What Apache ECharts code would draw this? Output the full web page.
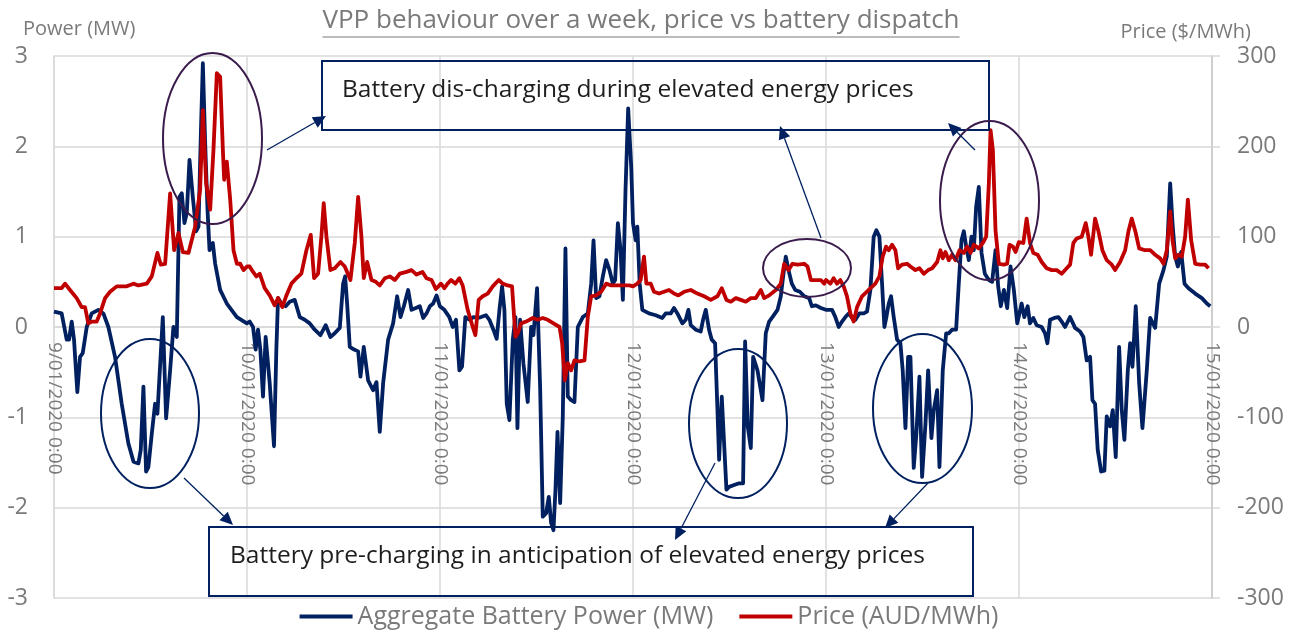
<!DOCTYPE html>
<html><head><meta charset="utf-8">
<script src="https://cdn.jsdelivr.net/npm/echarts@6/dist/echarts.min.js"></script>
<style>html,body{margin:0;padding:0;background:#fff}#c{width:1298px;height:630px}</style>
</head><body><div id="c"></div><script>
// x values are hours after 9/01/2020 0:00
const dayLabels = ['9/01/2020 0:00','10/01/2020 0:00','11/01/2020 0:00','12/01/2020 0:00','13/01/2020 0:00','14/01/2020 0:00','15/01/2020 0:00'];
const powerTicks = [-3,-2,-1,0,1,2,3];
const priceTicks = [-300,-200,-100,0,100,200,300];
const seriesNames = ['Aggregate Battery Power (MW)','Price (AUD/MWh)'];

const batteryPower = [
[0,0.17],[0.95,0.15],[1.58,-0.14],[1.87,-0.14],[2.2,0.06],[2.49,-0.14],[2.9,-0.72],[3.24,-0.33],[3.57,-0.29],[4.07,0],[4.69,0.15],[5.52,0.19],[6.14,0.15],[6.76,0],[7.59,-0.33],[8.42,-0.85],[9.25,-1.29],[9.88,-1.49],[10.5,-1.51],[10.79,-1.36],[11.12,-0.66],[11.45,-1.6],[11.74,-1.55],[12.16,-1.18],[12.57,-0.85],[12.86,-0.96],[13.53,0.11],[13.94,-1.01],[14.44,-0.48],[14.85,0],[15.27,-0.11],[15.6,1.44],[15.89,1.48],[16.22,1.15],[16.51,1.26],[16.85,1.85],[17.26,1.44],[17.68,1.06],[17.97,1.11],[18.26,2.14],[18.51,2.92],[18.8,2.03],[19.09,1.3],[19.34,0.85],[19.75,0.93],[20.04,0.7],[20.66,0.41],[21.49,0.26],[22.74,0.11],[23.98,0.04],
[24.33,0.06],[24.75,0],[25.08,-0.25],[25.37,-0.03],[25.66,-0.25],[25.99,-0.77],[26.32,-0.11],[26.82,-0.62],[27.36,-1.32],[27.65,-0.25],[27.86,0.32],[28.27,0.26],[28.81,0.23],[29.31,0.28],[29.93,0.3],[30.56,0.11],[31.18,0.08],[31.8,0.04],[32.42,-0.03],[33.13,-0.09],[33.79,0.02],[34.37,-0.11],[34.91,-0.07],[35.54,-0.01],[35.95,0.48],[36.2,0.56],[36.45,0.26],[36.78,-0.22],[37.32,-0.25],[37.82,-0.27],[38.11,-0.55],[38.52,-0.22],[39.06,-0.59],[39.68,-0.7],[40.1,-0.61],[40.51,-1.16],[40.93,-0.62],[41.55,-0.14],[42.17,0.04],[42.67,0.34],[43.09,0.11],[43.5,0.23],[44.04,0.41],[44.46,0.19],[45.0,0.21],[45.49,0.23],[45.91,0.1],[46.32,0.15],[46.74,0.23],[47.15,0.26],[47.57,0.35],[47.98,0.23],
[48.54,0.19],[49.16,0.11],[49.58,0],[49.99,0.08],[50.41,-0.48],[50.74,-0.44],[51.15,0.11],[51.65,0.08],[52.15,0.11],[52.69,0.1],[53.1,0.11],[53.73,0.13],[54.14,0.08],[54.64,-0.03],[55.05,-0.13],[55.39,0.19],[55.72,0.45],[56.01,0.19],[56.3,-0.85],[56.63,-1.03],[57.05,-0.14],[57.38,0.11],[57.63,-1.12],[57.96,0.08],[58.37,-0.4],[58.91,-0.83],[59.33,0],[59.62,-0.09],[60.07,0.43],[60.45,-0.66],[60.78,-2.1],[61.2,-2.06],[61.53,-1.88],[61.82,-2.17],[62.11,-2.25],[62.36,-1.8],[62.61,-1.16],[62.94,-1.95],[63.27,-0.99],[63.6,0.87],[63.89,-0.77],[64.31,-0.81],[64.72,-0.83],[65.14,0],[65.76,0.11],[66.38,0.15],[66.8,0.48],[67.09,0.96],[67.42,0.32],[67.83,0.34],[68.25,0.56],[68.66,0.74],[69.08,0.63],[69.49,0.48],[69.78,0.52],[70.12,1.15],[70.45,0.85],[70.74,0.3],[71.07,1.52],[71.4,2.42],[71.78,1.77],
[72.0,1.15],[72.33,0.96],[72.54,1.11],[72.83,0.48],[73.16,0.19],[73.99,0.15],[74.82,0.13],[75.65,0.1],[76.07,0.15],[76.69,0.15],[77.1,0.21],[77.52,0.15],[78.14,0.04],[78.56,0.08],[78.89,0.19],[79.18,0.02],[79.8,-0.03],[80.42,-0.05],[80.71,0.08],[81.05,0.19],[81.46,-0.03],[81.79,-0.14],[82.21,-0.18],[82.46,-0.81],[82.71,-1.47],[83.04,-0.77],[83.33,-1.29],[83.62,-1.8],[83.95,-1.77],[84.57,-1.75],[85.2,-1.73],[85.69,-1.73],[85.94,-0.16],[86.27,-1.1],[86.65,-1.34],[86.94,-0.33],[87.48,-0.48],[88.1,-0.81],[88.51,-0.07],[88.93,0.06],[89.34,0.11],[89.97,0.19],[90.38,0.34],[90.67,0.56],[91.0,0.78],[91.34,0.63],[91.75,0.48],[92.17,0.41],[92.75,0.39],[93.29,0.34],[93.91,0.32],[94.24,0.23],[94.74,0.24],[95.36,0.21],[95.98,0.19],
[96.12,0.19],[96.75,0.19],[97.16,0.11],[97.58,0],[97.99,0.06],[98.41,0.11],[98.82,0.15],[99.24,0.1],[99.65,0.08],[100.15,0.15],[100.69,0.15],[101.1,0.17],[101.52,0.41],[101.93,1.0],[102.27,1.07],[102.64,1.0],[102.97,0.48],[103.26,0],[103.51,0.11],[103.8,0.26],[104.09,0.34],[104.42,0.11],[104.84,-0.14],[105.25,-0.18],[105.54,-0.48],[105.88,-1.12],[106.21,-0.33],[106.5,-0.33],[106.91,-1.56],[107.24,-1.18],[107.62,-0.55],[107.95,-1.66],[108.37,-1.07],[108.7,-0.48],[109.11,-1.23],[109.4,-0.92],[109.82,-0.7],[110.11,-1.55],[110.52,-0.48],[110.94,-0.07],[111.27,-0.07],[111.68,-0.03],[112.18,-0.03],[112.51,0.48],[112.85,0.96],[113.14,1.06],[113.43,0.89],[113.76,0.74],[114.09,1.0],[114.38,0.85],[114.67,1.33],[115.0,1.55],[115.34,0.82],[115.75,0.59],[116.25,0.52],[116.66,0.5],[117.08,0.85],[117.41,0.45],[117.74,0.23],[118.12,0.41],[118.53,0.21],[118.95,0.67],[119.36,0.41],[119.78,0.04],
[120.0,0.06],[120.33,0.26],[120.66,0.11],[121.08,0.23],[121.37,0.04],[121.78,0.1],[122.2,0.02],[122.82,0],[123.24,-0.07],[123.53,-0.18],[123.86,0.08],[124.4,0.1],[124.9,0.11],[125.31,0.06],[125.73,0],[126.35,0.11],[126.97,-0.01],[127.59,-0.05],[128.01,-0.11],[128.42,-0.37],[128.84,-0.33],[129.13,-0.81],[129.46,-0.85],[129.79,-1.36],[130.21,-1.6],[130.62,-1.59],[130.91,-0.99],[131.33,-1.1],[131.66,-0.92],[132.03,-1.44],[132.45,-0.22],[132.78,-0.92],[133.11,-1.25],[133.53,-0.48],[133.82,-0.18],[134.11,-0.44],[134.52,0.23],[134.94,-0.62],[135.35,-1.12],[135.89,-0.48],[136.31,0.1],[136.93,-0.01],[137.43,0.48],[137.97,0.63],[138.38,0.78],[138.8,1.59],[139.09,1.15],[139.42,0.78],[139.75,0.67],[140.17,0.83],[140.58,0.48],[141.08,0.43],[141.91,0.37],[142.74,0.32],[143.36,0.26],[143.78,0.23]
];

const price = [
[0,43],[0.95,43],[1.37,48],[1.99,41],[2.82,32],[3.44,22],[3.86,22],[4.27,4],[4.69,6],[5.31,6],[5.73,15],[6.35,32],[6.97,39],[7.8,45],[9.05,45],[9.88,48],[10.5,46],[11.54,48],[12.16,56],[12.86,82],[13.28,69],[13.82,70],[14.44,148],[14.94,85],[15.48,104],[16.02,83],[16.72,82],[17.55,111],[18.17,152],[18.51,240],[18.92,159],[19.42,130],[19.83,196],[20.25,281],[20.66,277],[21.0,196],[21.16,163],[21.49,183],[21.91,141],[22.32,85],[22.74,70],[23.15,70],[23.57,63],[24.0,67],
[24.33,67],[24.75,61],[25.16,56],[25.58,59],[26.2,43],[26.82,35],[27.44,24],[27.86,32],[28.4,22],[28.9,35],[29.52,48],[30.14,54],[30.76,59],[31.39,85],[31.93,102],[32.34,54],[32.84,59],[33.25,100],[33.54,137],[33.88,100],[34.37,63],[34.91,65],[35.62,72],[36.16,67],[36.86,52],[37.4,93],[37.82,144],[38.23,100],[38.52,54],[38.94,72],[39.48,52],[40.02,50],[40.51,46],[41.14,54],[41.76,56],[42.38,52],[43.0,59],[43.83,61],[44.46,63],[45.08,58],[45.83,61],[46.32,54],[46.95,52],[47.49,42],[48.12,48],
[48.54,43],[48.95,48],[49.37,52],[49.91,48],[50.41,54],[50.82,46],[51.44,19],[52.07,0],[52.4,-9],[52.81,30],[53.31,34],[53.93,37],[54.56,45],[55.3,52],[55.8,48],[56.42,46],[56.96,45],[57.38,-11],[57.67,-7],[58.08,4],[58.71,6],[59.54,10],[60.16,8],[60.78,10],[61.4,8],[62.11,4],[62.86,0],[63.19,-18],[63.52,-59],[63.89,-40],[64.31,-48],[64.72,-37],[65.34,-38],[65.97,-37],[66.38,11],[66.8,34],[67.42,35],[68.04,39],[68.66,48],[69.29,46],[70.12,46],[70.95,46],[71.57,46],
[72.0,45],[72.54,48],[72.95,52],[73.37,78],[73.66,48],[74.2,48],[74.61,39],[75.24,37],[75.86,39],[76.48,41],[77.1,37],[77.64,35],[78.35,39],[79.18,41],[80.01,37],[80.84,34],[81.67,30],[82.5,34],[83.04,43],[83.62,30],[84.16,28],[84.78,32],[85.4,30],[86.02,28],[86.65,32],[87.27,32],[87.89,41],[88.31,32],[88.93,35],[89.76,41],[90.38,48],[90.8,70],[91.34,63],[91.83,70],[92.46,69],[93.29,70],[93.7,67],[94.12,52],[94.74,52],[95.36,52],[95.78,48],
[96.0,52],[96.54,48],[96.95,54],[97.37,48],[97.78,52],[98.2,45],[98.61,34],[99.03,15],[99.44,6],[99.86,22],[100.48,34],[101.31,41],[102.14,48],[102.64,56],[103.05,78],[103.47,89],[103.8,85],[104.22,91],[104.63,85],[104.96,65],[105.46,69],[106.08,70],[106.5,67],[107.12,63],[107.62,65],[108.16,59],[108.7,63],[109.2,65],[109.82,72],[110.23,85],[110.52,76],[110.85,83],[111.27,74],[111.68,80],[112.1,74],[112.6,85],[113.14,82],[113.55,89],[113.97,82],[114.38,91],[115.0,87],[115.5,93],[115.92,100],[116.25,159],[116.46,218],[116.75,196],[117.08,107],[117.49,70],[118.12,69],[118.53,70],[118.82,91],[119.24,89],[119.57,83],[119.98,94],
[120.54,93],[120.95,120],[121.37,93],[121.78,82],[122.32,80],[122.82,72],[123.44,65],[124.07,63],[124.69,63],[125.31,59],[125.93,65],[126.35,69],[126.76,93],[127.18,98],[127.8,100],[128.3,115],[128.63,100],[128.96,80],[129.46,120],[129.88,106],[130.37,85],[130.91,74],[131.54,69],[131.95,63],[132.57,72],[133.2,85],[133.61,106],[134.02,120],[134.52,104],[134.94,87],[135.68,85],[136.31,85],[136.93,80],[137.55,76],[137.97,70],[138.38,85],[138.8,128],[139.09,96],[139.42,76],[139.83,80],[140.25,78],[140.66,100],[141.0,141],[141.41,96],[141.91,70],[142.53,69],[143.15,69],[143.57,65]
];

const titleText = 'VPP behaviour over a week, price vs battery dispatch';
const noteTop = 'Battery dis-charging during elevated energy prices';
const noteBottom = 'Battery pre-charging in anticipation of elevated energy prices';

const FONT = '"Open Sans", "Noto Sans", sans-serif';
const NAVY = '#002060', RED = '#C00000', PURPLE = '#3a1b4c', GREY = '#7a7a7a', GRID = '#d9d9d9';

function measure(text, size) {
  const ctx = document.createElement('canvas').getContext('2d');
  ctx.font = size + 'px "Open Sans"';
  return ctx.measureText(text).width;
}
function arrow(x1, y1, x2, y2) {
  const dx = x2 - x1, dy = y2 - y1, L = Math.hypot(dx, dy), ux = dx / L, uy = dy / L;
  const hl = 13, hw = 6, bx = x2 - ux * hl, by = y2 - uy * hl;
  return [
    {type: 'line', shape: {x1, y1, x2: bx, y2: by}, style: {stroke: NAVY, lineWidth: 1.3}, z: 20},
    {type: 'polygon', shape: {points: [[x2, y2], [bx - uy * hw, by + ux * hw], [bx + uy * hw, by - ux * hw]]}, style: {fill: NAVY}, z: 20}
  ];
}
function ellipse(cx, cy, rx, ry, color) {
  return {type: 'ellipse', shape: {cx, cy, rx, ry}, style: {fill: 'none', stroke: color, lineWidth: 2}, z: 20};
}

const titleSize = 26;
const tw = measure(titleText, titleSize);
const titleX = 641;

const gridTop = 56, gridBottom = 32, chartH = 630;
const plotH = chartH - gridTop - gridBottom;
// x axis sits at the zero line of the symmetric value axes (-3..3 / -300..300)
const zeroOffset = -plotH * (0 - powerTicks[0]) / (powerTicks[powerTicks.length - 1] - powerTicks[0]);

const graphics = [
  {type: 'text', x: titleX, y: 21, style: {text: titleText, font: titleSize + 'px ' + FONT, fill: GREY, textAlign: 'center', textVerticalAlign: 'middle'}},
  {type: 'line', shape: {x1: titleX - tw / 2, y1: 37, x2: titleX + tw / 2, y2: 37}, style: {stroke: GREY, lineWidth: 1.2}},
  {type: 'text', x: 23, y: 29, style: {text: 'Power (MW)', font: '20px ' + FONT, fill: GREY, textAlign: 'left', textVerticalAlign: 'middle'}},
  {type: 'text', x: 1251, y: 32, style: {text: 'Price ($/MWh)', font: '20px ' + FONT, fill: GREY, textAlign: 'right', textVerticalAlign: 'middle'}},
  {type: 'rect', shape: {x: 322, y: 61, width: 667, height: 69}, style: {fill: 'none', stroke: NAVY, lineWidth: 2}, z: 20},
  {type: 'text', x: 342, y: 90, style: {text: noteTop, font: '24.5px ' + FONT, fill: '#1e1e1e', textAlign: 'left', textVerticalAlign: 'middle'}, z: 21},
  {type: 'rect', shape: {x: 209, y: 527, width: 764, height: 69}, style: {fill: 'none', stroke: NAVY, lineWidth: 2}, z: 20},
  {type: 'text', x: 230, y: 556, style: {text: noteBottom, font: '24.5px ' + FONT, fill: '#1e1e1e', textAlign: 'left', textVerticalAlign: 'middle'}, z: 21},
  ellipse(212.5, 138.5, 49.5, 85.5, PURPLE),
  ellipse(807, 268, 44, 29, PURPLE),
  ellipse(989.5, 200.5, 49.5, 79.5, PURPLE),
  ellipse(150, 413.5, 49, 74.5, NAVY),
  ellipse(738, 423.5, 49, 74.5, NAVY),
  ellipse(922.5, 408.5, 49.5, 74.5, NAVY),
  ...arrow(267, 150, 326, 116),
  ...arrow(821, 238, 780, 126),
  ...arrow(975, 150, 948, 123),
  ...arrow(184, 478, 233, 525),
  ...arrow(715, 463, 675, 540),
  ...arrow(928, 483, 885, 528)
];

const chart = echarts.init(document.getElementById('c'), null, {renderer: 'canvas'});
chart.setOption({
  animation: false,
  backgroundColor: '#fff',
  textStyle: {fontFamily: FONT},
  grid: {left: 54, right: 86, top: gridTop, bottom: gridBottom, containLabel: false, outerBoundsMode: 'none'},
  legend: {
    data: seriesNames, top: 599, left: 'center', icon: 'rect', itemWidth: 53, itemHeight: 4, itemGap: 26,
    textStyle: {fontSize: 25, color: GREY, fontFamily: FONT}
  },
  xAxis: {
    type: 'value', min: 0, max: 144, interval: 24, position: 'bottom', offset: zeroOffset,
    axisLine: {show: true, onZero: false, lineStyle: {color: GRID, width: 1.5}},
    axisTick: {show: false},
    splitLine: {show: true, lineStyle: {color: GRID, width: 1.5}},
    axisLabel: {rotate: -90, margin: 15, fontSize: 19, color: GREY, fontFamily: FONT,
      formatter: v => dayLabels[Math.round(v / 24)]}
  },
  yAxis: [
    {type: 'value', min: powerTicks[0], max: powerTicks[powerTicks.length - 1], interval: 1,
      axisLine: {show: true, onZero: false, lineStyle: {color: GRID, width: 1.5}}, axisTick: {show: false},
      splitLine: {show: true, lineStyle: {color: GRID, width: 1.5}},
      axisLabel: {margin: 26, fontSize: 23, color: GREY, fontFamily: FONT}},
    {type: 'value', min: priceTicks[0], max: priceTicks[priceTicks.length - 1], interval: 100, position: 'right',
      axisLine: {show: true, onZero: false, lineStyle: {color: '#c8c8c8', width: 1.5}},
      axisTick: {show: true, length: 8, lineStyle: {color: GRID, width: 1.5}},
      splitLine: {show: false},
      axisLabel: {margin: 25, fontSize: 23, color: GREY, fontFamily: FONT}}
  ],
  series: [
    {name: seriesNames[0], type: 'line', yAxisIndex: 0, data: batteryPower, showSymbol: false, symbol: 'none',
      lineStyle: {color: NAVY, width: 3.8, join: 'round'}, itemStyle: {color: NAVY}, z: 3},
    {name: seriesNames[1], type: 'line', yAxisIndex: 1, data: price, showSymbol: false, symbol: 'none',
      lineStyle: {color: RED, width: 3.8, join: 'round'}, itemStyle: {color: RED}, z: 4}
  ],
  graphic: graphics
});
</script></body></html>
